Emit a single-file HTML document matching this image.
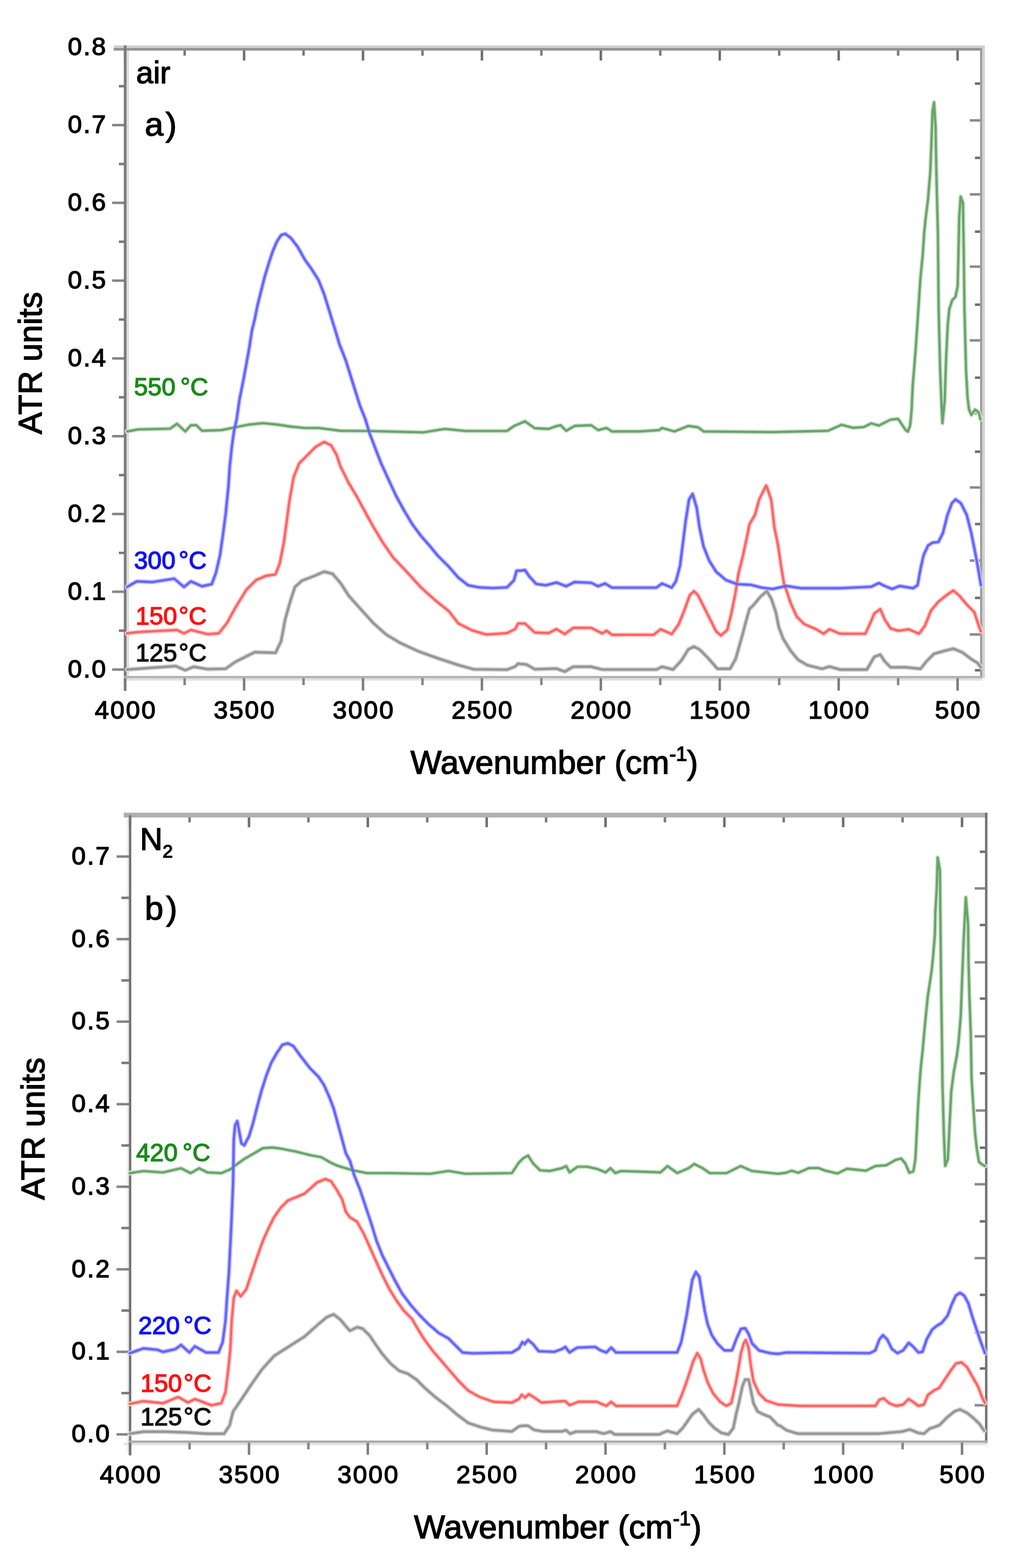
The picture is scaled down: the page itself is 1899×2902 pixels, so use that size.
<!DOCTYPE html>
<html><head><meta charset="utf-8"><title>ATR spectra</title>
<style>html,body{margin:0;padding:0;background:#fff;}svg{display:block;}</style>
</head><body>
<svg width="1899" height="2902" viewBox="0 0 1899 2902" font-family="'Liberation Sans', Arial, Helvetica, sans-serif">
<rect width="1899" height="2902" fill="#fff"/>
<rect x="210.4" y="84.1" width="1612.4" height="4.7" fill="#d0d0d0"/>
<rect x="234.1" y="93.6" width="4.6" height="1157.4" fill="#dcdcdc"/>
<rect x="1817.9" y="88.8" width="5.0" height="1166.5" fill="#d2d2d2"/>
<rect x="229.2" y="1255.3" width="1588.7" height="4.4" fill="#e0e0e0"/>
<line x1="207.5" y1="1239.2" x2="231.5" y2="1239.2" stroke="#858585" stroke-width="4.6" />
<line x1="220.0" y1="1167.2" x2="231.5" y2="1167.2" stroke="#7a7a7a" stroke-width="4.6" />
<line x1="207.5" y1="1095.2" x2="231.5" y2="1095.2" stroke="#858585" stroke-width="4.6" />
<line x1="220.0" y1="1023.3" x2="231.5" y2="1023.3" stroke="#7a7a7a" stroke-width="4.6" />
<line x1="207.5" y1="951.3" x2="231.5" y2="951.3" stroke="#858585" stroke-width="4.6" />
<line x1="220.0" y1="879.3" x2="231.5" y2="879.3" stroke="#7a7a7a" stroke-width="4.6" />
<line x1="207.5" y1="807.3" x2="231.5" y2="807.3" stroke="#858585" stroke-width="4.6" />
<line x1="220.0" y1="735.3" x2="231.5" y2="735.3" stroke="#7a7a7a" stroke-width="4.6" />
<line x1="207.5" y1="663.4" x2="231.5" y2="663.4" stroke="#858585" stroke-width="4.6" />
<line x1="220.0" y1="591.4" x2="231.5" y2="591.4" stroke="#7a7a7a" stroke-width="4.6" />
<line x1="207.5" y1="519.4" x2="231.5" y2="519.4" stroke="#858585" stroke-width="4.6" />
<line x1="220.0" y1="447.4" x2="231.5" y2="447.4" stroke="#7a7a7a" stroke-width="4.6" />
<line x1="207.5" y1="375.4" x2="231.5" y2="375.4" stroke="#858585" stroke-width="4.6" />
<line x1="220.0" y1="303.5" x2="231.5" y2="303.5" stroke="#7a7a7a" stroke-width="4.6" />
<line x1="207.5" y1="231.5" x2="231.5" y2="231.5" stroke="#858585" stroke-width="4.6" />
<line x1="220.0" y1="159.5" x2="231.5" y2="159.5" stroke="#7a7a7a" stroke-width="4.6" />
<line x1="231.7" y1="1254.0" x2="231.7" y2="1278.0" stroke="#7d7d7d" stroke-width="4.6" />
<line x1="231.7" y1="89.0" x2="231.7" y2="112.0" stroke="#6e6e6e" stroke-width="4.6" />
<line x1="341.8" y1="1254.0" x2="341.8" y2="1268.0" stroke="#858585" stroke-width="4.6" />
<line x1="341.8" y1="89.0" x2="341.8" y2="103.0" stroke="#7a7a7a" stroke-width="4.6" />
<line x1="451.8" y1="1254.0" x2="451.8" y2="1278.0" stroke="#7d7d7d" stroke-width="4.6" />
<line x1="451.8" y1="89.0" x2="451.8" y2="112.0" stroke="#6e6e6e" stroke-width="4.6" />
<line x1="561.8" y1="1254.0" x2="561.8" y2="1268.0" stroke="#858585" stroke-width="4.6" />
<line x1="561.8" y1="89.0" x2="561.8" y2="103.0" stroke="#7a7a7a" stroke-width="4.6" />
<line x1="671.9" y1="1254.0" x2="671.9" y2="1278.0" stroke="#7d7d7d" stroke-width="4.6" />
<line x1="671.9" y1="89.0" x2="671.9" y2="112.0" stroke="#6e6e6e" stroke-width="4.6" />
<line x1="782.0" y1="1254.0" x2="782.0" y2="1268.0" stroke="#858585" stroke-width="4.6" />
<line x1="782.0" y1="89.0" x2="782.0" y2="103.0" stroke="#7a7a7a" stroke-width="4.6" />
<line x1="892.0" y1="1254.0" x2="892.0" y2="1278.0" stroke="#7d7d7d" stroke-width="4.6" />
<line x1="892.0" y1="89.0" x2="892.0" y2="112.0" stroke="#6e6e6e" stroke-width="4.6" />
<line x1="1002.0" y1="1254.0" x2="1002.0" y2="1268.0" stroke="#858585" stroke-width="4.6" />
<line x1="1002.0" y1="89.0" x2="1002.0" y2="103.0" stroke="#7a7a7a" stroke-width="4.6" />
<line x1="1112.1" y1="1254.0" x2="1112.1" y2="1278.0" stroke="#7d7d7d" stroke-width="4.6" />
<line x1="1112.1" y1="89.0" x2="1112.1" y2="112.0" stroke="#6e6e6e" stroke-width="4.6" />
<line x1="1222.1" y1="1254.0" x2="1222.1" y2="1268.0" stroke="#858585" stroke-width="4.6" />
<line x1="1222.1" y1="89.0" x2="1222.1" y2="103.0" stroke="#7a7a7a" stroke-width="4.6" />
<line x1="1332.2" y1="1254.0" x2="1332.2" y2="1278.0" stroke="#7d7d7d" stroke-width="4.6" />
<line x1="1332.2" y1="89.0" x2="1332.2" y2="112.0" stroke="#6e6e6e" stroke-width="4.6" />
<line x1="1442.2" y1="1254.0" x2="1442.2" y2="1268.0" stroke="#858585" stroke-width="4.6" />
<line x1="1442.2" y1="89.0" x2="1442.2" y2="103.0" stroke="#7a7a7a" stroke-width="4.6" />
<line x1="1552.3" y1="1254.0" x2="1552.3" y2="1278.0" stroke="#7d7d7d" stroke-width="4.6" />
<line x1="1552.3" y1="89.0" x2="1552.3" y2="112.0" stroke="#6e6e6e" stroke-width="4.6" />
<line x1="1662.3" y1="1254.0" x2="1662.3" y2="1268.0" stroke="#858585" stroke-width="4.6" />
<line x1="1662.3" y1="89.0" x2="1662.3" y2="103.0" stroke="#7a7a7a" stroke-width="4.6" />
<line x1="1772.4" y1="1254.0" x2="1772.4" y2="1278.0" stroke="#7d7d7d" stroke-width="4.6" />
<line x1="1772.4" y1="89.0" x2="1772.4" y2="112.0" stroke="#6e6e6e" stroke-width="4.6" />
<line x1="1795.0" y1="222.8" x2="1816.0" y2="222.8" stroke="#8a8a8a" stroke-width="4.6" />
<line x1="1795.0" y1="359.7" x2="1816.0" y2="359.7" stroke="#8a8a8a" stroke-width="4.6" />
<line x1="1795.0" y1="493.5" x2="1816.0" y2="493.5" stroke="#8a8a8a" stroke-width="4.6" />
<line x1="1795.0" y1="630.0" x2="1816.0" y2="630.0" stroke="#8a8a8a" stroke-width="4.6" />
<line x1="1795.0" y1="765.1" x2="1816.0" y2="765.1" stroke="#8a8a8a" stroke-width="4.6" />
<line x1="1795.0" y1="902.2" x2="1816.0" y2="902.2" stroke="#8a8a8a" stroke-width="4.6" />
<line x1="1795.0" y1="1037.5" x2="1816.0" y2="1037.5" stroke="#8a8a8a" stroke-width="4.6" />
<line x1="1795.0" y1="1174.3" x2="1816.0" y2="1174.3" stroke="#8a8a8a" stroke-width="4.6" />
<line x1="1804.5" y1="154.7" x2="1816.0" y2="154.7" stroke="#6e6e6e" stroke-width="4.6" />
<line x1="1804.5" y1="292.2" x2="1816.0" y2="292.2" stroke="#6e6e6e" stroke-width="4.6" />
<line x1="1804.5" y1="428.7" x2="1816.0" y2="428.7" stroke="#6e6e6e" stroke-width="4.6" />
<line x1="1804.5" y1="563.9" x2="1816.0" y2="563.9" stroke="#6e6e6e" stroke-width="4.6" />
<line x1="1804.5" y1="699.0" x2="1816.0" y2="699.0" stroke="#6e6e6e" stroke-width="4.6" />
<line x1="1804.5" y1="836.0" x2="1816.0" y2="836.0" stroke="#6e6e6e" stroke-width="4.6" />
<line x1="1804.5" y1="969.9" x2="1816.0" y2="969.9" stroke="#6e6e6e" stroke-width="4.6" />
<line x1="1804.5" y1="1106.6" x2="1816.0" y2="1106.6" stroke="#6e6e6e" stroke-width="4.6" />
<line x1="1804.5" y1="1240.5" x2="1816.0" y2="1240.5" stroke="#6e6e6e" stroke-width="4.6" />
<rect x="210.4" y="88.8" width="1607.5" height="4.8" fill="#919191"/>
<rect x="229.2" y="84.1" width="4.9" height="1194.6" fill="#7b7b7b"/>
<rect x="1814.0" y="88.8" width="3.9" height="1166.5" fill="#9c9c9c"/>
<rect x="229.2" y="1251.0" width="1588.7" height="4.3" fill="#b2b2b2"/>
<polyline points="235.1,798.5 255.7,794.7 314.8,793.4 327.6,784.4 343.0,798.5 353.3,787.0 363.6,787.0 373.9,797.3 409.8,796.0 435.5,790.8 461.2,785.7 486.9,783.1 512.6,785.7 538.3,789.5 564.0,792.1 589.7,792.1 630.0,797.3 681.4,797.6 784.1,800.2 822.7,793.8 861.2,797.6 938.3,797.6 951.1,788.6 971.7,779.7 989.7,792.5 1015.3,793.8 1030.0,788.6 1037.7,787.0 1048.0,797.3 1063.4,788.3 1094.2,787.0 1107.1,796.0 1122.5,792.1 1132.8,798.5 1184.1,798.5 1220.1,796.0 1225.3,792.1 1248.4,798.5 1274.0,788.3 1292.0,790.8 1302.3,798.5 1430.0,799.8 1532.6,797.3 1557.4,786.2 1579.5,791.8 1598.8,790.4 1612.7,783.5 1626.5,787.6 1648.5,776.6 1662.4,775.2 1676.2,795.9 1680.3,798.7 1684.5,787.6 1687.2,760.0 1689.4,713.1 1692.2,679.3 1695.0,642.7 1697.9,600.5 1700.7,558.2 1703.5,516.0 1707.7,473.8 1710.5,431.5 1713.3,403.4 1717.6,369.6 1721.8,318.9 1723.8,268.2 1726.0,206.3 1728.8,189.4 1731.6,234.5 1733.1,318.9 1735.9,431.5 1737.3,572.3 1740.1,684.9 1742.9,755.3 1744.3,783.4 1748.5,741.2 1751.4,656.8 1754.2,600.5 1757.0,572.3 1762.6,555.4 1768.2,549.8 1772.5,530.1 1773.9,473.8 1775.3,403.4 1778.1,364.0 1782.3,375.2 1783.7,459.7 1785.1,572.3 1788.0,684.9 1790.8,735.6 1793.6,758.1 1797.8,768.0 1804.8,758.1 1811.9,763.7 1814.7,776.4" fill="none" stroke="#d4e6d4" stroke-width="8.6" stroke-linejoin="round" stroke-linecap="round"/>
<polyline points="235.1,1239.1 255.7,1237.8 325.0,1232.7 343.0,1240.4 358.5,1234.0 384.1,1238.4 417.5,1237.8 435.5,1225.0 456.1,1214.7 471.5,1207.0 510.0,1208.3 520.3,1186.5 528.0,1145.4 538.3,1109.4 546.0,1086.3 558.8,1074.7 582.0,1065.7 599.9,1058.0 615.4,1061.9 630.0,1078.6 645.4,1102.5 666.0,1125.6 691.7,1153.9 714.8,1174.4 740.5,1189.8 773.9,1205.2 809.8,1218.1 848.4,1230.9 876.6,1238.6 938.3,1239.4 953.7,1233.5 958.8,1228.4 974.2,1229.7 989.7,1238.6 1030.0,1237.4 1045.4,1243.0 1060.8,1234.0 1094.2,1234.0 1114.8,1239.1 1215.0,1239.1 1225.3,1234.0 1245.8,1239.1 1261.2,1222.4 1274.0,1201.9 1284.3,1196.7 1294.6,1201.9 1310.0,1217.3 1328.0,1237.8 1351.1,1237.8 1361.4,1219.9 1371.7,1183.9 1382.0,1145.4 1387.1,1127.4 1394.8,1119.7 1407.6,1104.2 1417.9,1095.3 1419.3,1094.2 1427.6,1108.0 1435.9,1132.8 1441.4,1160.4 1449.7,1182.5 1463.5,1204.6 1477.3,1221.2 1493.9,1230.9 1521.5,1237.8 1535.3,1233.6 1554.7,1239.2 1604.4,1239.2 1618.2,1215.7 1629.2,1211.5 1637.5,1224.0 1648.5,1235.0 1676.2,1235.0 1690.0,1236.4 1703.8,1237.8 1714.8,1224.0 1728.6,1210.1 1748.0,1204.6 1764.5,1200.5 1781.1,1207.4 1797.7,1219.8 1808.7,1226.7 1815.6,1235.0" fill="none" stroke="#d6d6d6" stroke-width="8.6" stroke-linejoin="round" stroke-linecap="round"/>
<polyline points="235.1,1172.3 255.7,1169.8 327.6,1165.9 340.5,1172.3 353.3,1165.9 384.1,1173.6 404.7,1172.3 420.1,1153.1 435.5,1124.8 456.1,1091.4 474.1,1073.4 492.0,1065.7 510.0,1063.1 517.7,1042.6 525.4,1004.0 530.6,965.5 535.7,927.0 543.4,883.3 553.7,857.6 566.5,844.8 584.5,826.8 599.9,817.8 612.8,824.2 623.1,842.2 630.0,862.8 645.4,894.0 660.8,919.7 678.8,953.1 691.7,976.2 707.1,1001.9 727.6,1031.8 753.3,1058.8 779.0,1087.1 804.7,1110.2 830.4,1130.7 848.4,1153.9 874.1,1166.7 899.8,1174.4 938.3,1171.8 953.7,1164.1 958.8,1153.9 971.7,1153.9 989.7,1170.6 1015.3,1171.8 1030.0,1164.1 1045.4,1173.6 1060.8,1162.0 1094.2,1162.0 1114.8,1172.3 1122.5,1167.2 1132.8,1174.9 1209.8,1174.9 1222.7,1164.6 1243.2,1173.6 1256.1,1155.6 1266.4,1129.9 1276.6,1101.7 1284.3,1094.0 1292.0,1101.7 1302.3,1122.2 1315.2,1147.9 1325.4,1168.5 1334.4,1176.2 1346.0,1165.9 1353.7,1135.1 1361.4,1096.5 1366.5,1063.1 1374.2,1032.3 1382.0,996.4 1387.1,970.7 1397.4,952.7 1405.1,924.4 1417.9,898.7 1419.3,900.8 1427.6,925.7 1433.1,975.4 1440.0,1008.6 1445.6,1047.2 1451.1,1080.4 1455.2,1091.4 1463.5,1116.3 1474.6,1141.1 1488.4,1154.9 1510.5,1164.6 1524.3,1172.9 1535.3,1164.6 1554.7,1172.9 1601.6,1172.9 1609.9,1154.9 1618.2,1135.6 1629.2,1127.3 1637.5,1146.6 1648.5,1163.2 1662.4,1167.4 1681.7,1164.6 1701.0,1172.9 1712.1,1157.7 1723.1,1130.1 1736.9,1113.5 1750.7,1102.4 1764.5,1092.8 1775.6,1102.4 1789.4,1119.0 1803.2,1132.8 1811.5,1157.7 1815.6,1168.7" fill="none" stroke="#ffcccc" stroke-width="8.6" stroke-linejoin="round" stroke-linecap="round"/>
<polyline points="235.1,1086.3 253.1,1076.0 281.4,1077.3 322.5,1070.9 340.5,1086.3 353.3,1076.0 373.9,1085.0 391.8,1081.1 399.6,1060.6 407.3,1027.2 412.4,991.2 417.5,952.7 422.7,901.3 425.2,862.8 429.1,826.8 433.0,798.5 438.1,775.4 443.2,739.7 450.9,701.1 456.1,672.9 461.2,644.6 466.4,611.2 471.5,590.7 476.6,565.0 483.1,539.3 489.5,513.6 497.2,487.9 504.9,464.8 512.6,446.8 520.3,435.2 528.0,432.7 538.3,440.4 551.1,457.1 564.0,480.2 576.8,498.2 589.7,518.7 599.9,544.4 610.2,577.8 620.5,611.2 628.2,636.9 640.3,667.9 653.1,709.0 666.0,750.1 676.2,775.8 683.9,801.5 691.7,822.0 704.5,855.4 717.3,883.7 732.8,917.1 748.2,945.4 763.6,971.0 779.0,991.6 797.0,1012.2 809.8,1028.0 830.4,1048.5 848.4,1069.1 866.4,1083.2 886.9,1087.1 912.6,1088.4 938.3,1087.1 951.1,1074.2 956.3,1056.2 964.0,1056.2 971.7,1055.0 979.4,1066.5 992.2,1080.6 1010.2,1083.2 1030.0,1078.1 1048.0,1085.0 1063.4,1077.3 1094.2,1078.6 1107.1,1085.0 1119.9,1079.9 1132.8,1087.6 1215.0,1087.6 1225.3,1079.9 1243.2,1087.6 1250.9,1076.0 1258.6,1047.7 1263.8,1006.6 1268.9,965.5 1275.3,924.4 1281.8,914.1 1289.5,939.8 1294.6,975.8 1302.3,1011.8 1312.6,1037.5 1325.4,1058.0 1343.4,1073.4 1364.0,1081.1 1389.7,1082.4 1410.2,1087.6 1430.0,1090.1 1455.2,1084.5 1482.9,1088.6 1554.7,1088.6 1612.7,1085.9 1626.5,1079.0 1637.5,1084.5 1651.3,1090.0 1665.1,1084.5 1690.0,1088.6 1698.3,1083.1 1703.8,1052.7 1709.3,1027.9 1717.6,1009.9 1725.9,1004.4 1736.9,1003.0 1745.2,986.5 1753.5,953.3 1761.8,931.2 1768.7,924.3 1778.4,931.2 1789.4,953.3 1797.7,986.5 1806.0,1027.9 1811.5,1058.3 1815.6,1083.1" fill="none" stroke="#c8c8ff" stroke-width="8.6" stroke-linejoin="round" stroke-linecap="round"/>
<polyline points="235.1,798.5 255.7,794.7 314.8,793.4 327.6,784.4 343.0,798.5 353.3,787.0 363.6,787.0 373.9,797.3 409.8,796.0 435.5,790.8 461.2,785.7 486.9,783.1 512.6,785.7 538.3,789.5 564.0,792.1 589.7,792.1 630.0,797.3 681.4,797.6 784.1,800.2 822.7,793.8 861.2,797.6 938.3,797.6 951.1,788.6 971.7,779.7 989.7,792.5 1015.3,793.8 1030.0,788.6 1037.7,787.0 1048.0,797.3 1063.4,788.3 1094.2,787.0 1107.1,796.0 1122.5,792.1 1132.8,798.5 1184.1,798.5 1220.1,796.0 1225.3,792.1 1248.4,798.5 1274.0,788.3 1292.0,790.8 1302.3,798.5 1430.0,799.8 1532.6,797.3 1557.4,786.2 1579.5,791.8 1598.8,790.4 1612.7,783.5 1626.5,787.6 1648.5,776.6 1662.4,775.2 1676.2,795.9 1680.3,798.7 1684.5,787.6 1687.2,760.0 1689.4,713.1 1692.2,679.3 1695.0,642.7 1697.9,600.5 1700.7,558.2 1703.5,516.0 1707.7,473.8 1710.5,431.5 1713.3,403.4 1717.6,369.6 1721.8,318.9 1723.8,268.2 1726.0,206.3 1728.8,189.4 1731.6,234.5 1733.1,318.9 1735.9,431.5 1737.3,572.3 1740.1,684.9 1742.9,755.3 1744.3,783.4 1748.5,741.2 1751.4,656.8 1754.2,600.5 1757.0,572.3 1762.6,555.4 1768.2,549.8 1772.5,530.1 1773.9,473.8 1775.3,403.4 1778.1,364.0 1782.3,375.2 1783.7,459.7 1785.1,572.3 1788.0,684.9 1790.8,735.6 1793.6,758.1 1797.8,768.0 1804.8,758.1 1811.9,763.7 1814.7,776.4" fill="none" stroke="#69a569" stroke-width="4.4" stroke-linejoin="round" stroke-linecap="round"/>
<polyline points="235.1,1239.1 255.7,1237.8 325.0,1232.7 343.0,1240.4 358.5,1234.0 384.1,1238.4 417.5,1237.8 435.5,1225.0 456.1,1214.7 471.5,1207.0 510.0,1208.3 520.3,1186.5 528.0,1145.4 538.3,1109.4 546.0,1086.3 558.8,1074.7 582.0,1065.7 599.9,1058.0 615.4,1061.9 630.0,1078.6 645.4,1102.5 666.0,1125.6 691.7,1153.9 714.8,1174.4 740.5,1189.8 773.9,1205.2 809.8,1218.1 848.4,1230.9 876.6,1238.6 938.3,1239.4 953.7,1233.5 958.8,1228.4 974.2,1229.7 989.7,1238.6 1030.0,1237.4 1045.4,1243.0 1060.8,1234.0 1094.2,1234.0 1114.8,1239.1 1215.0,1239.1 1225.3,1234.0 1245.8,1239.1 1261.2,1222.4 1274.0,1201.9 1284.3,1196.7 1294.6,1201.9 1310.0,1217.3 1328.0,1237.8 1351.1,1237.8 1361.4,1219.9 1371.7,1183.9 1382.0,1145.4 1387.1,1127.4 1394.8,1119.7 1407.6,1104.2 1417.9,1095.3 1419.3,1094.2 1427.6,1108.0 1435.9,1132.8 1441.4,1160.4 1449.7,1182.5 1463.5,1204.6 1477.3,1221.2 1493.9,1230.9 1521.5,1237.8 1535.3,1233.6 1554.7,1239.2 1604.4,1239.2 1618.2,1215.7 1629.2,1211.5 1637.5,1224.0 1648.5,1235.0 1676.2,1235.0 1690.0,1236.4 1703.8,1237.8 1714.8,1224.0 1728.6,1210.1 1748.0,1204.6 1764.5,1200.5 1781.1,1207.4 1797.7,1219.8 1808.7,1226.7 1815.6,1235.0" fill="none" stroke="#969696" stroke-width="4.4" stroke-linejoin="round" stroke-linecap="round"/>
<polyline points="235.1,1172.3 255.7,1169.8 327.6,1165.9 340.5,1172.3 353.3,1165.9 384.1,1173.6 404.7,1172.3 420.1,1153.1 435.5,1124.8 456.1,1091.4 474.1,1073.4 492.0,1065.7 510.0,1063.1 517.7,1042.6 525.4,1004.0 530.6,965.5 535.7,927.0 543.4,883.3 553.7,857.6 566.5,844.8 584.5,826.8 599.9,817.8 612.8,824.2 623.1,842.2 630.0,862.8 645.4,894.0 660.8,919.7 678.8,953.1 691.7,976.2 707.1,1001.9 727.6,1031.8 753.3,1058.8 779.0,1087.1 804.7,1110.2 830.4,1130.7 848.4,1153.9 874.1,1166.7 899.8,1174.4 938.3,1171.8 953.7,1164.1 958.8,1153.9 971.7,1153.9 989.7,1170.6 1015.3,1171.8 1030.0,1164.1 1045.4,1173.6 1060.8,1162.0 1094.2,1162.0 1114.8,1172.3 1122.5,1167.2 1132.8,1174.9 1209.8,1174.9 1222.7,1164.6 1243.2,1173.6 1256.1,1155.6 1266.4,1129.9 1276.6,1101.7 1284.3,1094.0 1292.0,1101.7 1302.3,1122.2 1315.2,1147.9 1325.4,1168.5 1334.4,1176.2 1346.0,1165.9 1353.7,1135.1 1361.4,1096.5 1366.5,1063.1 1374.2,1032.3 1382.0,996.4 1387.1,970.7 1397.4,952.7 1405.1,924.4 1417.9,898.7 1419.3,900.8 1427.6,925.7 1433.1,975.4 1440.0,1008.6 1445.6,1047.2 1451.1,1080.4 1455.2,1091.4 1463.5,1116.3 1474.6,1141.1 1488.4,1154.9 1510.5,1164.6 1524.3,1172.9 1535.3,1164.6 1554.7,1172.9 1601.6,1172.9 1609.9,1154.9 1618.2,1135.6 1629.2,1127.3 1637.5,1146.6 1648.5,1163.2 1662.4,1167.4 1681.7,1164.6 1701.0,1172.9 1712.1,1157.7 1723.1,1130.1 1736.9,1113.5 1750.7,1102.4 1764.5,1092.8 1775.6,1102.4 1789.4,1119.0 1803.2,1132.8 1811.5,1157.7 1815.6,1168.7" fill="none" stroke="#ff6464" stroke-width="4.4" stroke-linejoin="round" stroke-linecap="round"/>
<polyline points="235.1,1086.3 253.1,1076.0 281.4,1077.3 322.5,1070.9 340.5,1086.3 353.3,1076.0 373.9,1085.0 391.8,1081.1 399.6,1060.6 407.3,1027.2 412.4,991.2 417.5,952.7 422.7,901.3 425.2,862.8 429.1,826.8 433.0,798.5 438.1,775.4 443.2,739.7 450.9,701.1 456.1,672.9 461.2,644.6 466.4,611.2 471.5,590.7 476.6,565.0 483.1,539.3 489.5,513.6 497.2,487.9 504.9,464.8 512.6,446.8 520.3,435.2 528.0,432.7 538.3,440.4 551.1,457.1 564.0,480.2 576.8,498.2 589.7,518.7 599.9,544.4 610.2,577.8 620.5,611.2 628.2,636.9 640.3,667.9 653.1,709.0 666.0,750.1 676.2,775.8 683.9,801.5 691.7,822.0 704.5,855.4 717.3,883.7 732.8,917.1 748.2,945.4 763.6,971.0 779.0,991.6 797.0,1012.2 809.8,1028.0 830.4,1048.5 848.4,1069.1 866.4,1083.2 886.9,1087.1 912.6,1088.4 938.3,1087.1 951.1,1074.2 956.3,1056.2 964.0,1056.2 971.7,1055.0 979.4,1066.5 992.2,1080.6 1010.2,1083.2 1030.0,1078.1 1048.0,1085.0 1063.4,1077.3 1094.2,1078.6 1107.1,1085.0 1119.9,1079.9 1132.8,1087.6 1215.0,1087.6 1225.3,1079.9 1243.2,1087.6 1250.9,1076.0 1258.6,1047.7 1263.8,1006.6 1268.9,965.5 1275.3,924.4 1281.8,914.1 1289.5,939.8 1294.6,975.8 1302.3,1011.8 1312.6,1037.5 1325.4,1058.0 1343.4,1073.4 1364.0,1081.1 1389.7,1082.4 1410.2,1087.6 1430.0,1090.1 1455.2,1084.5 1482.9,1088.6 1554.7,1088.6 1612.7,1085.9 1626.5,1079.0 1637.5,1084.5 1651.3,1090.0 1665.1,1084.5 1690.0,1088.6 1698.3,1083.1 1703.8,1052.7 1709.3,1027.9 1717.6,1009.9 1725.9,1004.4 1736.9,1003.0 1745.2,986.5 1753.5,953.3 1761.8,931.2 1768.7,924.3 1778.4,931.2 1789.4,953.3 1797.7,986.5 1806.0,1027.9 1811.5,1058.3 1815.6,1083.1" fill="none" stroke="#6464ff" stroke-width="4.4" stroke-linejoin="round" stroke-linecap="round"/>
<text x="198.6" y="1253.7" font-size="47" text-anchor="end" letter-spacing="2.6" fill="#000" stroke="#000" stroke-width="1.5">0.0</text>
<text x="198.6" y="1109.7" font-size="47" text-anchor="end" letter-spacing="2.6" fill="#000" stroke="#000" stroke-width="1.5">0.1</text>
<text x="198.6" y="965.8" font-size="47" text-anchor="end" letter-spacing="2.6" fill="#000" stroke="#000" stroke-width="1.5">0.2</text>
<text x="198.6" y="821.8" font-size="47" text-anchor="end" letter-spacing="2.6" fill="#000" stroke="#000" stroke-width="1.5">0.3</text>
<text x="198.6" y="677.9" font-size="47" text-anchor="end" letter-spacing="2.6" fill="#000" stroke="#000" stroke-width="1.5">0.4</text>
<text x="198.6" y="533.9" font-size="47" text-anchor="end" letter-spacing="2.6" fill="#000" stroke="#000" stroke-width="1.5">0.5</text>
<text x="198.6" y="389.9" font-size="47" text-anchor="end" letter-spacing="2.6" fill="#000" stroke="#000" stroke-width="1.5">0.6</text>
<text x="198.6" y="246.0" font-size="47" text-anchor="end" letter-spacing="2.6" fill="#000" stroke="#000" stroke-width="1.5">0.7</text>
<text x="198.6" y="102.0" font-size="47" text-anchor="end" letter-spacing="2.6" fill="#000" stroke="#000" stroke-width="1.5">0.8</text>
<text x="233.0" y="1330.0" font-size="47" text-anchor="middle" letter-spacing="2.6" fill="#000" stroke="#000" stroke-width="1.5">4000</text>
<text x="453.1" y="1330.0" font-size="47" text-anchor="middle" letter-spacing="2.6" fill="#000" stroke="#000" stroke-width="1.5">3500</text>
<text x="673.2" y="1330.0" font-size="47" text-anchor="middle" letter-spacing="2.6" fill="#000" stroke="#000" stroke-width="1.5">3000</text>
<text x="893.3" y="1330.0" font-size="47" text-anchor="middle" letter-spacing="2.6" fill="#000" stroke="#000" stroke-width="1.5">2500</text>
<text x="1113.4" y="1330.0" font-size="47" text-anchor="middle" letter-spacing="2.6" fill="#000" stroke="#000" stroke-width="1.5">2000</text>
<text x="1333.5" y="1330.0" font-size="47" text-anchor="middle" letter-spacing="2.6" fill="#000" stroke="#000" stroke-width="1.5">1500</text>
<text x="1553.6" y="1330.0" font-size="47" text-anchor="middle" letter-spacing="2.6" fill="#000" stroke="#000" stroke-width="1.5">1000</text>
<text x="1773.7" y="1330.0" font-size="47" text-anchor="middle" letter-spacing="2.6" fill="#000" stroke="#000" stroke-width="1.5">500</text>
<text x="0.0" y="0.0" font-size="61" text-anchor="middle" fill="#000" stroke="#000" stroke-width="1.5" transform="translate(77,672) rotate(-90)">ATR units</text>
<text x="1026.0" y="1431.5" font-size="61" text-anchor="middle" fill="#000" stroke="#000" stroke-width="1.5" >Wavenumber (cm<tspan font-size="37" dy="-24">-1</tspan><tspan dy="24">)</tspan></text>
<text x="252.0" y="153.5" font-size="57" text-anchor="start" fill="#000" stroke="#000" stroke-width="1.5" >air</text>
<text x="268.0" y="251.0" font-size="62" text-anchor="start" fill="#000" stroke="#000" stroke-width="1.5" >a<tspan dx="4">)</tspan></text>
<text x="248.0" y="731.5" font-size="46" fill="#1a8a1a" stroke="#1a8a1a" stroke-width="1.5">550<tspan dx="9">°C</tspan></text>
<text x="248.0" y="1053.0" font-size="46" fill="#1010ff" stroke="#1010ff" stroke-width="1.5">300<tspan dx="6">°C</tspan></text>
<text x="251.0" y="1156.0" font-size="46" fill="#ff1010" stroke="#ff1010" stroke-width="1.5">150<tspan dx="3">°C</tspan></text>
<text x="251.0" y="1223.5" font-size="46" fill="#111" stroke="#111" stroke-width="1.5">125<tspan dx="3">°C</tspan></text>
<rect x="234.1" y="1512.9" width="4.4" height="1176.0" fill="#f0f0f0"/>
<rect x="229.2" y="2670.3" width="1598.4" height="4.4" fill="#e2e2e2"/>
<line x1="215.7" y1="2654.7" x2="240.7" y2="2654.7" stroke="#858585" stroke-width="4.6" />
<line x1="224.7" y1="2578.3" x2="240.7" y2="2578.3" stroke="#7a7a7a" stroke-width="4.6" />
<line x1="215.7" y1="2501.9" x2="240.7" y2="2501.9" stroke="#858585" stroke-width="4.6" />
<line x1="224.7" y1="2425.5" x2="240.7" y2="2425.5" stroke="#7a7a7a" stroke-width="4.6" />
<line x1="215.7" y1="2349.2" x2="240.7" y2="2349.2" stroke="#858585" stroke-width="4.6" />
<line x1="224.7" y1="2272.8" x2="240.7" y2="2272.8" stroke="#7a7a7a" stroke-width="4.6" />
<line x1="215.7" y1="2196.4" x2="240.7" y2="2196.4" stroke="#858585" stroke-width="4.6" />
<line x1="224.7" y1="2120.0" x2="240.7" y2="2120.0" stroke="#7a7a7a" stroke-width="4.6" />
<line x1="215.7" y1="2043.6" x2="240.7" y2="2043.6" stroke="#858585" stroke-width="4.6" />
<line x1="224.7" y1="1967.2" x2="240.7" y2="1967.2" stroke="#7a7a7a" stroke-width="4.6" />
<line x1="215.7" y1="1890.8" x2="240.7" y2="1890.8" stroke="#858585" stroke-width="4.6" />
<line x1="224.7" y1="1814.5" x2="240.7" y2="1814.5" stroke="#7a7a7a" stroke-width="4.6" />
<line x1="215.7" y1="1738.1" x2="240.7" y2="1738.1" stroke="#858585" stroke-width="4.6" />
<line x1="224.7" y1="1661.7" x2="240.7" y2="1661.7" stroke="#7a7a7a" stroke-width="4.6" />
<line x1="215.7" y1="1585.3" x2="240.7" y2="1585.3" stroke="#858585" stroke-width="4.6" />
<line x1="240.9" y1="2668.5" x2="240.9" y2="2692.5" stroke="#7d7d7d" stroke-width="4.6" />
<line x1="240.9" y1="1508.0" x2="240.9" y2="1531.0" stroke="#6e6e6e" stroke-width="4.6" />
<line x1="350.9" y1="2668.5" x2="350.9" y2="2682.5" stroke="#858585" stroke-width="4.6" />
<line x1="350.9" y1="1508.0" x2="350.9" y2="1522.0" stroke="#7a7a7a" stroke-width="4.6" />
<line x1="460.9" y1="2668.5" x2="460.9" y2="2692.5" stroke="#7d7d7d" stroke-width="4.6" />
<line x1="460.9" y1="1508.0" x2="460.9" y2="1531.0" stroke="#6e6e6e" stroke-width="4.6" />
<line x1="570.8" y1="2668.5" x2="570.8" y2="2682.5" stroke="#858585" stroke-width="4.6" />
<line x1="570.8" y1="1508.0" x2="570.8" y2="1522.0" stroke="#7a7a7a" stroke-width="4.6" />
<line x1="680.8" y1="2668.5" x2="680.8" y2="2692.5" stroke="#7d7d7d" stroke-width="4.6" />
<line x1="680.8" y1="1508.0" x2="680.8" y2="1531.0" stroke="#6e6e6e" stroke-width="4.6" />
<line x1="790.8" y1="2668.5" x2="790.8" y2="2682.5" stroke="#858585" stroke-width="4.6" />
<line x1="790.8" y1="1508.0" x2="790.8" y2="1522.0" stroke="#7a7a7a" stroke-width="4.6" />
<line x1="900.8" y1="2668.5" x2="900.8" y2="2692.5" stroke="#7d7d7d" stroke-width="4.6" />
<line x1="900.8" y1="1508.0" x2="900.8" y2="1531.0" stroke="#6e6e6e" stroke-width="4.6" />
<line x1="1010.7" y1="2668.5" x2="1010.7" y2="2682.5" stroke="#858585" stroke-width="4.6" />
<line x1="1010.7" y1="1508.0" x2="1010.7" y2="1522.0" stroke="#7a7a7a" stroke-width="4.6" />
<line x1="1120.7" y1="2668.5" x2="1120.7" y2="2692.5" stroke="#7d7d7d" stroke-width="4.6" />
<line x1="1120.7" y1="1508.0" x2="1120.7" y2="1531.0" stroke="#6e6e6e" stroke-width="4.6" />
<line x1="1230.7" y1="2668.5" x2="1230.7" y2="2682.5" stroke="#858585" stroke-width="4.6" />
<line x1="1230.7" y1="1508.0" x2="1230.7" y2="1522.0" stroke="#7a7a7a" stroke-width="4.6" />
<line x1="1340.7" y1="2668.5" x2="1340.7" y2="2692.5" stroke="#7d7d7d" stroke-width="4.6" />
<line x1="1340.7" y1="1508.0" x2="1340.7" y2="1531.0" stroke="#6e6e6e" stroke-width="4.6" />
<line x1="1450.6" y1="2668.5" x2="1450.6" y2="2682.5" stroke="#858585" stroke-width="4.6" />
<line x1="1450.6" y1="1508.0" x2="1450.6" y2="1522.0" stroke="#7a7a7a" stroke-width="4.6" />
<line x1="1560.6" y1="2668.5" x2="1560.6" y2="2692.5" stroke="#7d7d7d" stroke-width="4.6" />
<line x1="1560.6" y1="1508.0" x2="1560.6" y2="1531.0" stroke="#6e6e6e" stroke-width="4.6" />
<line x1="1670.6" y1="2668.5" x2="1670.6" y2="2682.5" stroke="#858585" stroke-width="4.6" />
<line x1="1670.6" y1="1508.0" x2="1670.6" y2="1522.0" stroke="#7a7a7a" stroke-width="4.6" />
<line x1="1780.6" y1="2668.5" x2="1780.6" y2="2692.5" stroke="#7d7d7d" stroke-width="4.6" />
<line x1="1780.6" y1="1508.0" x2="1780.6" y2="1531.0" stroke="#6e6e6e" stroke-width="4.6" />
<line x1="1804.0" y1="1644.3" x2="1825.0" y2="1644.3" stroke="#8a8a8a" stroke-width="4.6" />
<line x1="1804.0" y1="1781.0" x2="1825.0" y2="1781.0" stroke="#8a8a8a" stroke-width="4.6" />
<line x1="1804.0" y1="1918.0" x2="1825.0" y2="1918.0" stroke="#8a8a8a" stroke-width="4.6" />
<line x1="1804.0" y1="2055.3" x2="1825.0" y2="2055.3" stroke="#8a8a8a" stroke-width="4.6" />
<line x1="1804.0" y1="2191.8" x2="1825.0" y2="2191.8" stroke="#8a8a8a" stroke-width="4.6" />
<line x1="1804.0" y1="2328.5" x2="1825.0" y2="2328.5" stroke="#8a8a8a" stroke-width="4.6" />
<line x1="1804.0" y1="2465.9" x2="1825.0" y2="2465.9" stroke="#8a8a8a" stroke-width="4.6" />
<line x1="1804.0" y1="2600.8" x2="1825.0" y2="2600.8" stroke="#8a8a8a" stroke-width="4.6" />
<line x1="1813.5" y1="1576.4" x2="1825.0" y2="1576.4" stroke="#6e6e6e" stroke-width="4.6" />
<line x1="1813.5" y1="1712.0" x2="1825.0" y2="1712.0" stroke="#6e6e6e" stroke-width="4.6" />
<line x1="1813.5" y1="1848.2" x2="1825.0" y2="1848.2" stroke="#6e6e6e" stroke-width="4.6" />
<line x1="1813.5" y1="1986.4" x2="1825.0" y2="1986.4" stroke="#6e6e6e" stroke-width="4.6" />
<line x1="1813.5" y1="2124.2" x2="1825.0" y2="2124.2" stroke="#6e6e6e" stroke-width="4.6" />
<line x1="1813.5" y1="2260.5" x2="1825.0" y2="2260.5" stroke="#6e6e6e" stroke-width="4.6" />
<line x1="1813.5" y1="2396.5" x2="1825.0" y2="2396.5" stroke="#6e6e6e" stroke-width="4.6" />
<line x1="1813.5" y1="2532.7" x2="1825.0" y2="2532.7" stroke="#6e6e6e" stroke-width="4.6" />
<rect x="229.0" y="1504.1" width="1598.6" height="8.8" fill="#b0b0b0"/>
<rect x="238.5" y="1508.8" width="4.5" height="1184.8" fill="#737373"/>
<rect x="1823.1" y="1504.1" width="4.5" height="1166.2" fill="#737373"/>
<rect x="238.5" y="2666.0" width="1589.1" height="4.3" fill="#acacac"/>
<polyline points="240.0,2171.2 265.7,2167.4 301.7,2169.9 335.1,2162.2 353.0,2171.2 368.5,2162.2 383.9,2169.9 409.6,2171.2 427.5,2163.5 435.2,2157.1 453.2,2144.3 471.2,2134.0 486.6,2125.0 504.6,2123.7 522.6,2126.3 548.3,2131.4 574.0,2137.8 594.5,2141.7 612.5,2152.0 625.4,2157.7 640.0,2162.2 653.0,2165.9 679.1,2171.1 718.2,2171.1 796.3,2172.4 830.2,2167.2 861.4,2172.4 947.4,2171.1 960.4,2151.6 968.2,2143.8 977.4,2138.6 986.5,2152.9 999.5,2165.9 1017.7,2167.2 1039.9,2162.0 1047.8,2158.1 1054.3,2169.8 1068.7,2159.4 1086.9,2159.4 1105.1,2163.3 1120.8,2169.8 1129.9,2162.0 1139.0,2171.1 1149.4,2167.2 1222.4,2169.8 1235.4,2158.1 1253.6,2171.1 1274.5,2162.0 1284.9,2154.2 1300.5,2162.0 1313.5,2171.1 1344.8,2171.1 1370.8,2158.1 1391.7,2167.2 1439.9,2172.4 1455.0,2170.5 1465.0,2166.7 1477.6,2170.5 1497.6,2161.7 1515.2,2161.7 1527.7,2166.7 1550.2,2171.8 1567.8,2163.0 1602.8,2166.7 1620.4,2158.0 1640.4,2156.7 1657.9,2146.7 1668.0,2144.2 1675.5,2153.0 1683.0,2170.5 1690.5,2168.0 1694.3,2145.4 1696.8,2095.4 1699.3,2045.3 1701.8,2007.7 1704.3,1975.1 1707.7,1945.0 1708.6,1933.1 1712.8,1887.7 1717.0,1845.7 1722.0,1812.1 1724.5,1795.3 1727.1,1770.1 1730.4,1728.1 1731.3,1686.1 1733.8,1644.0 1735.5,1586.9 1739.7,1610.4 1740.5,1694.5 1741.3,1761.7 1742.2,1845.7 1743.0,1896.1 1743.9,1960.0 1744.4,2007.7 1746.9,2095.4 1749.4,2158.0 1754.4,2145.4 1756.9,2095.4 1760.6,2020.2 1765.6,1982.6 1770.8,1955.0 1774.1,1929.7 1778.3,1879.3 1780.8,1812.1 1783.4,1744.9 1785.9,1694.5 1787.6,1660.8 1791.8,1711.3 1792.6,1778.5 1794.3,1845.7 1796.8,1913.0 1797.6,1960.0 1798.2,1995.2 1802.0,2055.3 1804.5,2095.4 1808.2,2127.9 1812.0,2150.5 1818.3,2155.5 1823.3,2158.0" fill="none" stroke="#d4e6d4" stroke-width="8.6" stroke-linejoin="round" stroke-linecap="round"/>
<polyline points="240.0,2653.5 265.7,2649.7 304.2,2649.7 342.8,2651.0 383.9,2653.5 414.7,2653.5 425.0,2638.1 431.4,2612.4 445.5,2591.9 466.1,2561.0 484.1,2535.4 507.2,2509.7 535.4,2491.7 563.7,2473.7 589.4,2450.6 604.8,2437.7 617.6,2432.6 630.5,2442.9 640.0,2454.4 647.8,2462.9 660.8,2456.4 671.3,2459.0 684.3,2472.0 694.7,2487.6 707.7,2505.9 723.4,2524.1 739.0,2537.1 754.6,2542.4 770.3,2552.8 785.9,2568.4 806.7,2586.6 827.6,2602.3 845.8,2617.9 866.6,2633.5 890.1,2641.3 910.9,2646.6 947.4,2649.2 960.4,2640.0 968.2,2638.7 977.4,2638.7 989.1,2646.6 1004.7,2649.2 1039.9,2649.2 1047.7,2647.0 1055.4,2653.4 1065.7,2649.6 1104.2,2649.6 1117.1,2653.4 1129.9,2649.6 1137.6,2654.7 1219.8,2654.7 1235.2,2648.3 1253.2,2653.4 1263.5,2643.1 1281.5,2617.5 1293.1,2608.5 1302.0,2618.7 1312.3,2632.9 1322.6,2643.1 1335.4,2652.1 1348.3,2654.7 1357.3,2643.1 1362.4,2617.5 1367.5,2596.9 1374.0,2566.1 1379.1,2553.2 1385.5,2553.2 1389.4,2571.2 1394.5,2596.9 1402.2,2612.3 1412.5,2617.5 1425.4,2622.6 1440.0,2638.0 1442.8,2638.0 1455.7,2647.0 1476.2,2653.4 1625.2,2653.4 1668.9,2649.6 1684.3,2645.7 1699.8,2652.1 1710.0,2653.4 1720.3,2644.4 1738.3,2638.0 1753.7,2622.6 1766.5,2612.3 1776.8,2608.5 1789.7,2614.9 1802.5,2625.2 1812.8,2635.4 1821.8,2648.3" fill="none" stroke="#d6d6d6" stroke-width="8.6" stroke-linejoin="round" stroke-linecap="round"/>
<polyline points="240.0,2598.3 265.7,2593.2 301.7,2597.0 329.9,2585.5 347.9,2595.7 360.7,2589.3 391.6,2600.9 409.6,2597.0 417.3,2576.5 422.4,2535.4 426.3,2496.8 428.8,2445.4 432.7,2401.8 437.8,2388.9 445.5,2399.2 455.8,2386.3 466.1,2355.5 476.4,2324.7 486.6,2296.4 496.9,2273.3 507.2,2252.8 520.0,2234.8 532.9,2221.9 548.3,2215.5 563.7,2209.1 586.8,2188.5 602.2,2182.1 612.5,2186.0 622.8,2201.4 633.1,2219.4 640.0,2242.5 647.8,2253.2 660.8,2261.0 673.9,2284.5 684.3,2307.9 694.7,2331.3 707.7,2360.0 720.8,2386.0 733.8,2406.9 746.8,2425.1 762.4,2440.7 772.9,2459.0 785.9,2479.8 801.5,2500.7 817.1,2518.9 832.8,2537.1 848.4,2555.4 866.6,2573.6 887.5,2585.3 913.5,2594.5 947.4,2595.8 960.4,2589.3 965.6,2581.4 972.1,2586.6 978.7,2580.1 989.1,2586.6 1002.1,2595.8 1039.9,2593.2 1046.4,2593.1 1054.1,2600.8 1070.8,2594.3 1104.2,2594.3 1122.2,2602.0 1131.2,2594.3 1140.2,2602.0 1253.2,2602.0 1260.9,2584.1 1268.6,2563.5 1276.4,2540.4 1282.8,2519.8 1290.5,2504.4 1296.9,2514.7 1302.0,2535.2 1309.7,2558.4 1320.0,2578.9 1332.9,2594.3 1344.4,2602.0 1353.4,2596.9 1361.1,2563.5 1366.3,2535.2 1371.4,2504.4 1376.5,2486.4 1380.4,2480.0 1385.5,2494.1 1389.4,2525.0 1394.5,2555.8 1404.8,2578.9 1417.6,2591.8 1440.0,2599.5 1481.4,2602.0 1620.1,2602.0 1627.8,2590.5 1635.5,2587.9 1645.8,2596.9 1658.6,2602.0 1671.5,2599.5 1681.8,2589.2 1689.5,2594.3 1699.8,2602.0 1710.0,2599.5 1717.7,2581.5 1728.0,2573.8 1738.3,2568.6 1748.6,2553.2 1758.8,2537.8 1769.1,2523.7 1779.4,2521.1 1789.7,2530.1 1799.9,2548.1 1810.2,2566.1 1817.9,2586.6 1823.1,2596.9" fill="none" stroke="#ffcccc" stroke-width="8.6" stroke-linejoin="round" stroke-linecap="round"/>
<polyline points="240.0,2504.5 265.7,2495.5 291.4,2498.1 301.7,2502.0 324.8,2496.8 335.1,2489.1 350.5,2503.2 360.7,2491.7 381.3,2503.2 404.4,2503.2 412.1,2484.0 417.3,2445.4 419.8,2406.9 423.7,2355.5 426.3,2304.1 428.8,2252.8 431.4,2188.5 432.7,2108.3 435.2,2082.6 439.1,2074.9 443.0,2095.4 446.8,2116.0 452.0,2119.8 460.9,2103.1 468.6,2077.5 476.4,2046.6 484.1,2018.4 493.1,1990.1 502.0,1967.0 512.3,1949.0 522.6,1933.6 532.9,1931.0 543.1,1936.2 556.0,1954.1 574.0,1977.3 589.4,1992.7 599.7,2008.1 609.9,2031.2 617.6,2051.8 625.4,2080.0 633.1,2108.3 640.0,2134.0 647.8,2149.0 655.6,2175.0 666.1,2201.1 676.5,2232.4 686.9,2263.6 697.3,2297.5 707.7,2323.5 718.2,2344.4 731.2,2370.4 744.2,2393.9 759.8,2414.7 775.5,2432.9 793.7,2451.2 811.9,2466.8 830.2,2477.2 845.8,2492.9 856.2,2503.3 874.5,2504.6 947.4,2503.3 960.4,2495.5 966.9,2483.7 970.8,2487.6 977.4,2479.8 986.5,2487.6 996.9,2500.7 1025.6,2502.0 1039.9,2496.8 1046.4,2492.9 1054.1,2503.1 1068.3,2494.1 1101.7,2492.9 1111.9,2499.3 1122.2,2503.1 1131.2,2494.1 1140.2,2503.1 1253.2,2503.1 1260.9,2483.9 1266.1,2458.2 1271.2,2432.5 1276.4,2399.1 1281.5,2368.3 1287.9,2354.1 1294.3,2363.1 1299.5,2396.5 1304.6,2427.3 1309.7,2450.5 1317.5,2471.0 1327.7,2486.4 1340.6,2499.3 1354.7,2499.3 1363.7,2476.2 1371.4,2459.5 1379.1,2458.2 1385.5,2468.5 1392.0,2486.4 1404.8,2499.3 1425.4,2504.4 1440.0,2505.7 1455.7,2503.1 1609.8,2504.4 1620.1,2499.3 1627.8,2478.7 1634.2,2471.0 1641.9,2478.7 1650.9,2496.7 1661.2,2504.4 1671.5,2499.3 1681.8,2485.2 1689.5,2491.6 1699.8,2503.1 1707.5,2501.8 1715.2,2478.7 1725.4,2460.7 1733.2,2454.3 1743.4,2447.9 1753.7,2435.1 1761.4,2414.5 1769.1,2397.8 1776.8,2392.7 1784.5,2397.8 1792.2,2411.9 1799.9,2437.6 1807.6,2460.7 1815.4,2483.9 1823.1,2504.4" fill="none" stroke="#c8c8ff" stroke-width="8.6" stroke-linejoin="round" stroke-linecap="round"/>
<polyline points="240.0,2171.2 265.7,2167.4 301.7,2169.9 335.1,2162.2 353.0,2171.2 368.5,2162.2 383.9,2169.9 409.6,2171.2 427.5,2163.5 435.2,2157.1 453.2,2144.3 471.2,2134.0 486.6,2125.0 504.6,2123.7 522.6,2126.3 548.3,2131.4 574.0,2137.8 594.5,2141.7 612.5,2152.0 625.4,2157.7 640.0,2162.2 653.0,2165.9 679.1,2171.1 718.2,2171.1 796.3,2172.4 830.2,2167.2 861.4,2172.4 947.4,2171.1 960.4,2151.6 968.2,2143.8 977.4,2138.6 986.5,2152.9 999.5,2165.9 1017.7,2167.2 1039.9,2162.0 1047.8,2158.1 1054.3,2169.8 1068.7,2159.4 1086.9,2159.4 1105.1,2163.3 1120.8,2169.8 1129.9,2162.0 1139.0,2171.1 1149.4,2167.2 1222.4,2169.8 1235.4,2158.1 1253.6,2171.1 1274.5,2162.0 1284.9,2154.2 1300.5,2162.0 1313.5,2171.1 1344.8,2171.1 1370.8,2158.1 1391.7,2167.2 1439.9,2172.4 1455.0,2170.5 1465.0,2166.7 1477.6,2170.5 1497.6,2161.7 1515.2,2161.7 1527.7,2166.7 1550.2,2171.8 1567.8,2163.0 1602.8,2166.7 1620.4,2158.0 1640.4,2156.7 1657.9,2146.7 1668.0,2144.2 1675.5,2153.0 1683.0,2170.5 1690.5,2168.0 1694.3,2145.4 1696.8,2095.4 1699.3,2045.3 1701.8,2007.7 1704.3,1975.1 1707.7,1945.0 1708.6,1933.1 1712.8,1887.7 1717.0,1845.7 1722.0,1812.1 1724.5,1795.3 1727.1,1770.1 1730.4,1728.1 1731.3,1686.1 1733.8,1644.0 1735.5,1586.9 1739.7,1610.4 1740.5,1694.5 1741.3,1761.7 1742.2,1845.7 1743.0,1896.1 1743.9,1960.0 1744.4,2007.7 1746.9,2095.4 1749.4,2158.0 1754.4,2145.4 1756.9,2095.4 1760.6,2020.2 1765.6,1982.6 1770.8,1955.0 1774.1,1929.7 1778.3,1879.3 1780.8,1812.1 1783.4,1744.9 1785.9,1694.5 1787.6,1660.8 1791.8,1711.3 1792.6,1778.5 1794.3,1845.7 1796.8,1913.0 1797.6,1960.0 1798.2,1995.2 1802.0,2055.3 1804.5,2095.4 1808.2,2127.9 1812.0,2150.5 1818.3,2155.5 1823.3,2158.0" fill="none" stroke="#69a569" stroke-width="4.4" stroke-linejoin="round" stroke-linecap="round"/>
<polyline points="240.0,2653.5 265.7,2649.7 304.2,2649.7 342.8,2651.0 383.9,2653.5 414.7,2653.5 425.0,2638.1 431.4,2612.4 445.5,2591.9 466.1,2561.0 484.1,2535.4 507.2,2509.7 535.4,2491.7 563.7,2473.7 589.4,2450.6 604.8,2437.7 617.6,2432.6 630.5,2442.9 640.0,2454.4 647.8,2462.9 660.8,2456.4 671.3,2459.0 684.3,2472.0 694.7,2487.6 707.7,2505.9 723.4,2524.1 739.0,2537.1 754.6,2542.4 770.3,2552.8 785.9,2568.4 806.7,2586.6 827.6,2602.3 845.8,2617.9 866.6,2633.5 890.1,2641.3 910.9,2646.6 947.4,2649.2 960.4,2640.0 968.2,2638.7 977.4,2638.7 989.1,2646.6 1004.7,2649.2 1039.9,2649.2 1047.7,2647.0 1055.4,2653.4 1065.7,2649.6 1104.2,2649.6 1117.1,2653.4 1129.9,2649.6 1137.6,2654.7 1219.8,2654.7 1235.2,2648.3 1253.2,2653.4 1263.5,2643.1 1281.5,2617.5 1293.1,2608.5 1302.0,2618.7 1312.3,2632.9 1322.6,2643.1 1335.4,2652.1 1348.3,2654.7 1357.3,2643.1 1362.4,2617.5 1367.5,2596.9 1374.0,2566.1 1379.1,2553.2 1385.5,2553.2 1389.4,2571.2 1394.5,2596.9 1402.2,2612.3 1412.5,2617.5 1425.4,2622.6 1440.0,2638.0 1442.8,2638.0 1455.7,2647.0 1476.2,2653.4 1625.2,2653.4 1668.9,2649.6 1684.3,2645.7 1699.8,2652.1 1710.0,2653.4 1720.3,2644.4 1738.3,2638.0 1753.7,2622.6 1766.5,2612.3 1776.8,2608.5 1789.7,2614.9 1802.5,2625.2 1812.8,2635.4 1821.8,2648.3" fill="none" stroke="#969696" stroke-width="4.4" stroke-linejoin="round" stroke-linecap="round"/>
<polyline points="240.0,2598.3 265.7,2593.2 301.7,2597.0 329.9,2585.5 347.9,2595.7 360.7,2589.3 391.6,2600.9 409.6,2597.0 417.3,2576.5 422.4,2535.4 426.3,2496.8 428.8,2445.4 432.7,2401.8 437.8,2388.9 445.5,2399.2 455.8,2386.3 466.1,2355.5 476.4,2324.7 486.6,2296.4 496.9,2273.3 507.2,2252.8 520.0,2234.8 532.9,2221.9 548.3,2215.5 563.7,2209.1 586.8,2188.5 602.2,2182.1 612.5,2186.0 622.8,2201.4 633.1,2219.4 640.0,2242.5 647.8,2253.2 660.8,2261.0 673.9,2284.5 684.3,2307.9 694.7,2331.3 707.7,2360.0 720.8,2386.0 733.8,2406.9 746.8,2425.1 762.4,2440.7 772.9,2459.0 785.9,2479.8 801.5,2500.7 817.1,2518.9 832.8,2537.1 848.4,2555.4 866.6,2573.6 887.5,2585.3 913.5,2594.5 947.4,2595.8 960.4,2589.3 965.6,2581.4 972.1,2586.6 978.7,2580.1 989.1,2586.6 1002.1,2595.8 1039.9,2593.2 1046.4,2593.1 1054.1,2600.8 1070.8,2594.3 1104.2,2594.3 1122.2,2602.0 1131.2,2594.3 1140.2,2602.0 1253.2,2602.0 1260.9,2584.1 1268.6,2563.5 1276.4,2540.4 1282.8,2519.8 1290.5,2504.4 1296.9,2514.7 1302.0,2535.2 1309.7,2558.4 1320.0,2578.9 1332.9,2594.3 1344.4,2602.0 1353.4,2596.9 1361.1,2563.5 1366.3,2535.2 1371.4,2504.4 1376.5,2486.4 1380.4,2480.0 1385.5,2494.1 1389.4,2525.0 1394.5,2555.8 1404.8,2578.9 1417.6,2591.8 1440.0,2599.5 1481.4,2602.0 1620.1,2602.0 1627.8,2590.5 1635.5,2587.9 1645.8,2596.9 1658.6,2602.0 1671.5,2599.5 1681.8,2589.2 1689.5,2594.3 1699.8,2602.0 1710.0,2599.5 1717.7,2581.5 1728.0,2573.8 1738.3,2568.6 1748.6,2553.2 1758.8,2537.8 1769.1,2523.7 1779.4,2521.1 1789.7,2530.1 1799.9,2548.1 1810.2,2566.1 1817.9,2586.6 1823.1,2596.9" fill="none" stroke="#ff6464" stroke-width="4.4" stroke-linejoin="round" stroke-linecap="round"/>
<polyline points="240.0,2504.5 265.7,2495.5 291.4,2498.1 301.7,2502.0 324.8,2496.8 335.1,2489.1 350.5,2503.2 360.7,2491.7 381.3,2503.2 404.4,2503.2 412.1,2484.0 417.3,2445.4 419.8,2406.9 423.7,2355.5 426.3,2304.1 428.8,2252.8 431.4,2188.5 432.7,2108.3 435.2,2082.6 439.1,2074.9 443.0,2095.4 446.8,2116.0 452.0,2119.8 460.9,2103.1 468.6,2077.5 476.4,2046.6 484.1,2018.4 493.1,1990.1 502.0,1967.0 512.3,1949.0 522.6,1933.6 532.9,1931.0 543.1,1936.2 556.0,1954.1 574.0,1977.3 589.4,1992.7 599.7,2008.1 609.9,2031.2 617.6,2051.8 625.4,2080.0 633.1,2108.3 640.0,2134.0 647.8,2149.0 655.6,2175.0 666.1,2201.1 676.5,2232.4 686.9,2263.6 697.3,2297.5 707.7,2323.5 718.2,2344.4 731.2,2370.4 744.2,2393.9 759.8,2414.7 775.5,2432.9 793.7,2451.2 811.9,2466.8 830.2,2477.2 845.8,2492.9 856.2,2503.3 874.5,2504.6 947.4,2503.3 960.4,2495.5 966.9,2483.7 970.8,2487.6 977.4,2479.8 986.5,2487.6 996.9,2500.7 1025.6,2502.0 1039.9,2496.8 1046.4,2492.9 1054.1,2503.1 1068.3,2494.1 1101.7,2492.9 1111.9,2499.3 1122.2,2503.1 1131.2,2494.1 1140.2,2503.1 1253.2,2503.1 1260.9,2483.9 1266.1,2458.2 1271.2,2432.5 1276.4,2399.1 1281.5,2368.3 1287.9,2354.1 1294.3,2363.1 1299.5,2396.5 1304.6,2427.3 1309.7,2450.5 1317.5,2471.0 1327.7,2486.4 1340.6,2499.3 1354.7,2499.3 1363.7,2476.2 1371.4,2459.5 1379.1,2458.2 1385.5,2468.5 1392.0,2486.4 1404.8,2499.3 1425.4,2504.4 1440.0,2505.7 1455.7,2503.1 1609.8,2504.4 1620.1,2499.3 1627.8,2478.7 1634.2,2471.0 1641.9,2478.7 1650.9,2496.7 1661.2,2504.4 1671.5,2499.3 1681.8,2485.2 1689.5,2491.6 1699.8,2503.1 1707.5,2501.8 1715.2,2478.7 1725.4,2460.7 1733.2,2454.3 1743.4,2447.9 1753.7,2435.1 1761.4,2414.5 1769.1,2397.8 1776.8,2392.7 1784.5,2397.8 1792.2,2411.9 1799.9,2437.6 1807.6,2460.7 1815.4,2483.9 1823.1,2504.4" fill="none" stroke="#6464ff" stroke-width="4.4" stroke-linejoin="round" stroke-linecap="round"/>
<text x="205.6" y="2669.2" font-size="47" text-anchor="end" letter-spacing="2.6" fill="#000" stroke="#000" stroke-width="1.5">0.0</text>
<text x="205.6" y="2516.4" font-size="47" text-anchor="end" letter-spacing="2.6" fill="#000" stroke="#000" stroke-width="1.5">0.1</text>
<text x="205.6" y="2363.7" font-size="47" text-anchor="end" letter-spacing="2.6" fill="#000" stroke="#000" stroke-width="1.5">0.2</text>
<text x="205.6" y="2210.9" font-size="47" text-anchor="end" letter-spacing="2.6" fill="#000" stroke="#000" stroke-width="1.5">0.3</text>
<text x="205.6" y="2058.1" font-size="47" text-anchor="end" letter-spacing="2.6" fill="#000" stroke="#000" stroke-width="1.5">0.4</text>
<text x="205.6" y="1905.3" font-size="47" text-anchor="end" letter-spacing="2.6" fill="#000" stroke="#000" stroke-width="1.5">0.5</text>
<text x="205.6" y="1752.6" font-size="47" text-anchor="end" letter-spacing="2.6" fill="#000" stroke="#000" stroke-width="1.5">0.6</text>
<text x="205.6" y="1599.8" font-size="47" text-anchor="end" letter-spacing="2.6" fill="#000" stroke="#000" stroke-width="1.5">0.7</text>
<text x="242.2" y="2745.0" font-size="47" text-anchor="middle" letter-spacing="2.6" fill="#000" stroke="#000" stroke-width="1.5">4000</text>
<text x="462.2" y="2745.0" font-size="47" text-anchor="middle" letter-spacing="2.6" fill="#000" stroke="#000" stroke-width="1.5">3500</text>
<text x="682.1" y="2745.0" font-size="47" text-anchor="middle" letter-spacing="2.6" fill="#000" stroke="#000" stroke-width="1.5">3000</text>
<text x="902.0" y="2745.0" font-size="47" text-anchor="middle" letter-spacing="2.6" fill="#000" stroke="#000" stroke-width="1.5">2500</text>
<text x="1122.0" y="2745.0" font-size="47" text-anchor="middle" letter-spacing="2.6" fill="#000" stroke="#000" stroke-width="1.5">2000</text>
<text x="1342.0" y="2745.0" font-size="47" text-anchor="middle" letter-spacing="2.6" fill="#000" stroke="#000" stroke-width="1.5">1500</text>
<text x="1561.9" y="2745.0" font-size="47" text-anchor="middle" letter-spacing="2.6" fill="#000" stroke="#000" stroke-width="1.5">1000</text>
<text x="1781.9" y="2745.0" font-size="47" text-anchor="middle" letter-spacing="2.6" fill="#000" stroke="#000" stroke-width="1.5">500</text>
<text x="0.0" y="0.0" font-size="61" text-anchor="middle" fill="#000" stroke="#000" stroke-width="1.5" transform="translate(82,2089) rotate(-90)">ATR units</text>
<text x="1032.5" y="2847.0" font-size="61" text-anchor="middle" fill="#000" stroke="#000" stroke-width="1.5" >Wavenumber (cm<tspan font-size="37" dy="-24">-1</tspan><tspan dy="24">)</tspan></text>
<text x="259.0" y="1573.0" font-size="58" text-anchor="start" fill="#000" stroke="#000" stroke-width="1.5" >N<tspan font-size="34" dy="14">2</tspan></text>
<text x="268.0" y="1702.0" font-size="62" text-anchor="start" fill="#000" stroke="#000" stroke-width="1.5" >b<tspan dx="5">)</tspan></text>
<text x="252.0" y="2149.0" font-size="46" fill="#1a8a1a" stroke="#1a8a1a" stroke-width="1.5">420<tspan dx="9">°C</tspan></text>
<text x="256.0" y="2469.0" font-size="46" fill="#1010ff" stroke="#1010ff" stroke-width="1.5">220<tspan dx="7">°C</tspan></text>
<text x="260.0" y="2576.0" font-size="46" fill="#ff1010" stroke="#ff1010" stroke-width="1.5">150<tspan dx="3">°C</tspan></text>
<text x="260.0" y="2638.0" font-size="46" fill="#111" stroke="#111" stroke-width="1.5">125<tspan dx="3">°C</tspan></text>
</svg>
</body></html>
